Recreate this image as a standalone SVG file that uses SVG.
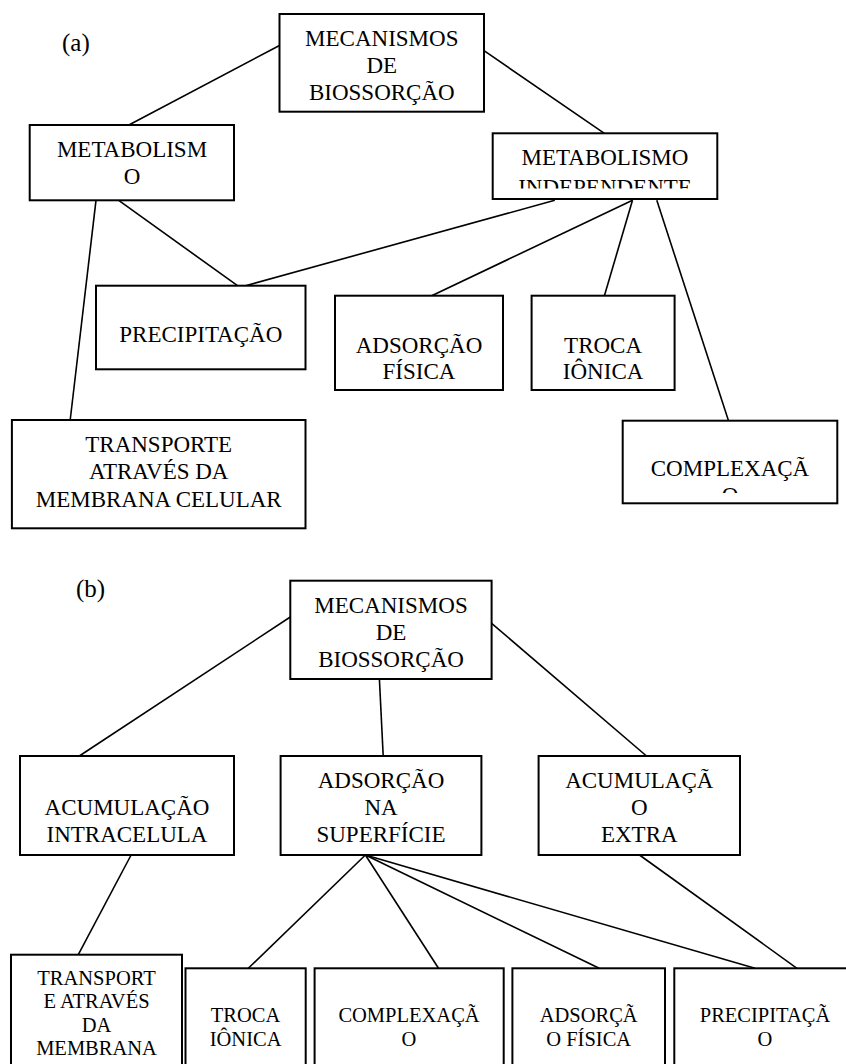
<svg xmlns="http://www.w3.org/2000/svg" width="846" height="1064" viewBox="0 0 846 1064">
<style>
.box{fill:#fff;stroke:#000;stroke-width:2}
.t{font-family:"Liberation Serif","Times New Roman",serif;font-size:23px;fill:#000;text-anchor:middle}
.s{font-family:"Liberation Serif","Times New Roman",serif;font-size:20.5px;fill:#000;text-anchor:middle}
.lab{font-family:"Liberation Serif","Times New Roman",serif;font-size:25px;fill:#000}
.c line{stroke:#000;stroke-width:1.6}
</style>
<defs>
<clipPath id="clipIndep"><rect x="493" y="134" width="224" height="54.5"/></clipPath>
<clipPath id="clipCompl"><rect x="623" y="421" width="214" height="72"/></clipPath>
</defs>
<rect width="846" height="1064" fill="#fff"/>
<text class="lab" x="62" y="51">(a)</text>
<text class="lab" x="76" y="597">(b)</text>
<g class="c" id="connectors">
<line x1="279.5" y1="45.5" x2="128.4" y2="125.3"/>
<line x1="484" y1="50.7" x2="604.4" y2="133.3"/>
<line x1="96" y1="200.3" x2="70.2" y2="420"/>
<line x1="118.7" y1="200.3" x2="237.5" y2="285.7"/>
<line x1="554.8" y1="200.3" x2="245.5" y2="285.7"/>
<line x1="632.5" y1="200.3" x2="431.7" y2="295.7"/>
<line x1="632.5" y1="200.3" x2="604.4" y2="295.7"/>
<line x1="656.8" y1="200.3" x2="728.5" y2="420.7"/>
<line x1="290.3" y1="617" x2="79.3" y2="756"/>
<line x1="379.4" y1="679" x2="383.2" y2="756"/>
<line x1="491.6" y1="623.3" x2="646.5" y2="756"/>
<line x1="131.1" y1="855" x2="78.3" y2="954.7"/>
<line x1="365.4" y1="855" x2="248.3" y2="968.3"/>
<line x1="365.4" y1="855" x2="438.5" y2="968.3"/>
<line x1="365.4" y1="855" x2="599.2" y2="968.3"/>
<line x1="365.4" y1="855" x2="755" y2="968.3"/>
<line x1="639.5" y1="855" x2="797" y2="968.3"/>
</g>
<g id="a-root">
<rect class="box" x="279.5" y="14" width="204.5" height="97.7"/>
<text class="t" x="381.8" y="46">MECANISMOS</text>
<text class="t" x="381.8" y="73">DE</text>
<text class="t" x="381.8" y="100">BIOSSORÇÃO</text>
</g>
<g id="a-metabolismo">
<rect class="box" x="29.7" y="125" width="204.3" height="75.3"/>
<text class="t" x="132" y="157">METABOLISM</text>
<text class="t" x="132" y="184">O</text>
</g>
<g id="a-independente">
<rect class="box" x="492.7" y="133.3" width="224.6" height="65.7"/>
<text class="t" x="605" y="165">METABOLISMO</text>
<text class="t" x="605" y="195" clip-path="url(#clipIndep)">INDEPENDENTE</text>
</g>
<g id="a-precipitacao">
<rect class="box" x="96" y="285.7" width="209.5" height="83.6"/>
<text class="t" x="200.8" y="342.3">PRECIPITAÇÃO</text>
</g>
<g id="a-adsorcao">
<rect class="box" x="335" y="295.7" width="168" height="94.3"/>
<text class="t" x="419" y="352.7">ADSORÇÃO</text>
<text class="t" x="419" y="378.5">FÍSICA</text>
</g>
<g id="a-troca">
<rect class="box" x="531.6" y="295.7" width="143" height="94.3"/>
<text class="t" x="603.1" y="352.7">TROCA</text>
<text class="t" x="603.1" y="378.5">IÔNICA</text>
</g>
<g id="a-transporte">
<rect class="box" x="11.9" y="420" width="293.6" height="108.3"/>
<text class="t" x="158.7" y="451.7">TRANSPORTE</text>
<text class="t" x="158.7" y="479.3">ATRAVÉS DA</text>
<text class="t" x="158.7" y="506.7">MEMBRANA CELULAR</text>
</g>
<g id="a-complexacao">
<rect class="box" x="622.7" y="420.7" width="214.6" height="82.6"/>
<text class="t" x="730" y="475.7">COMPLEXAÇÃ</text>
<text class="t" x="730" y="502.5" clip-path="url(#clipCompl)">O</text>
</g>
<g id="b-root">
<rect class="box" x="290.3" y="580.7" width="201.3" height="98.3"/>
<text class="t" x="391" y="612.7">MECANISMOS</text>
<text class="t" x="391" y="640">DE</text>
<text class="t" x="391" y="666.7">BIOSSORÇÃO</text>
</g>
<g id="b-intracelular">
<rect class="box" x="20" y="756" width="214" height="99"/>
<text class="t" x="127" y="815">ACUMULAÇÃO</text>
<text class="t" x="127" y="841.7">INTRACELULA</text>
</g>
<g id="b-superficie">
<rect class="box" x="280.6" y="756" width="200.8" height="99"/>
<text class="t" x="381" y="788.3">ADSORÇÃO</text>
<text class="t" x="381" y="815">NA</text>
<text class="t" x="381" y="841.7">SUPERFÍCIE</text>
</g>
<g id="b-extra">
<rect class="box" x="538.6" y="756" width="201.4" height="99"/>
<text class="t" x="639.3" y="788.3">ACUMULAÇÃ</text>
<text class="t" x="639.3" y="815">O</text>
<text class="t" x="639.3" y="841.7">EXTRA</text>
</g>
<g id="b-transport">
<rect class="box" x="11" y="954.7" width="171" height="120"/>
<text class="s" x="96.5" y="985">TRANSPORT</text>
<text class="s" x="96.5" y="1008.3">E ATRAVÉS</text>
<text class="s" x="96.5" y="1031.5">DA</text>
<text class="s" x="96.5" y="1055">MEMBRANA</text>
</g>
<g id="b-troca">
<rect class="box" x="185.5" y="968.3" width="120.2" height="110"/>
<text class="s" x="245.6" y="1021.7">TROCA</text>
<text class="s" x="245.6" y="1046">IÔNICA</text>
</g>
<g id="b-complexacao">
<rect class="box" x="314.6" y="968.3" width="189.1" height="110"/>
<text class="s" x="409" y="1021.7">COMPLEXAÇÃ</text>
<text class="s" x="409" y="1046">O</text>
</g>
<g id="b-adsorcao">
<rect class="box" x="512.4" y="968.3" width="152.6" height="110"/>
<text class="s" x="588.7" y="1021.7">ADSORÇÃ</text>
<text class="s" x="588.7" y="1046">O FÍSICA</text>
</g>
<g id="b-precipitacao">
<rect class="box" x="674.3" y="968.3" width="182" height="110"/>
<text class="s" x="765" y="1021.7">PRECIPITAÇÃ</text>
<text class="s" x="765" y="1046">O</text>
</g>
</svg>
